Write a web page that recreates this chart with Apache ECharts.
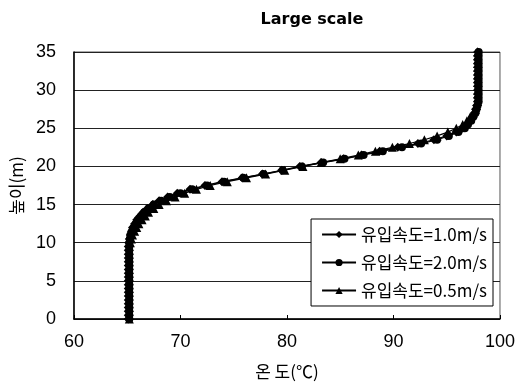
<!DOCTYPE html>
<html>
<head>
<meta charset="utf-8">
<script src="https://cdn.jsdelivr.net/npm/echarts@6/dist/echarts.min.js"></script>
<style>
html, body { margin: 0; padding: 0; background: #fff; }
#chart { width: 518px; height: 386px; }
</style>
</head>
<body>
<div id="chart"></div>
<script>
// height (m)
var heights = [0, 0.5, 1, 1.5, 2, 2.5, 3, 3.5, 4, 4.5, 5, 5.5, 6, 6.5, 7, 7.5, 8, 8.5, 9, 9.5,
    10, 10.5, 11, 11.5, 12, 12.5, 13, 13.5, 14, 14.5, 15, 15.5, 16, 16.5, 17, 17.5, 18, 18.5,
    19, 19.5, 20, 20.5, 21, 21.5, 22, 22.5, 23, 23.5, 24, 24.5, 25, 25.5, 26, 26.5, 27, 27.5, 28,
    28.5, 29, 29.5, 30, 30.5, 31, 31.5, 32, 32.5, 33, 33.5, 34, 34.5, 35];

// temperature (C) per inflow velocity
var temp10 = [65.1, 65.1, 65.1, 65.1, 65.1, 65.1, 65.1, 65.1, 65.1, 65.1, 65.1, 65.1, 65.1, 65.1, 65.1, 65.1, 65.1, 65.1, 65.1, 65.1,
    65.15, 65.2, 65.3, 65.4, 65.5, 65.7, 65.9, 66.2, 66.5, 66.9, 67.4, 68.0, 68.8, 69.7, 70.9, 72.3, 73.9, 75.8,
    77.7, 79.5, 81.2, 83.2, 85.3, 87.0, 88.7, 90.4, 92.3, 93.8, 95.0, 95.9, 96.5, 96.9, 97.2, 97.4, 97.6, 97.7, 97.8,
    97.9, 97.9, 97.9, 97.9, 97.9, 97.9, 97.9, 97.9, 97.9, 97.9, 97.9, 97.9, 97.9, 97.9];
var temp20 = [65.2, 65.2, 65.2, 65.2, 65.2, 65.2, 65.2, 65.2, 65.2, 65.2, 65.2, 65.2, 65.2, 65.2, 65.2, 65.2, 65.2, 65.2, 65.2, 65.2,
    65.2, 65.25, 65.3, 65.45, 65.6, 65.8, 66.0, 66.3, 66.6, 67.0, 67.5, 68.2, 69.0, 70.0, 71.1, 72.5, 74.1, 75.9,
    77.8, 79.6, 81.4, 83.4, 85.4, 87.2, 89.0, 90.8, 92.6, 94.1, 95.2, 96.1, 96.7, 97.0, 97.3, 97.5, 97.7, 97.8, 97.9,
    98.0, 98.0, 98.0, 98.0, 98.0, 98.0, 98.0, 98.0, 98.0, 98.0, 98.0, 98.0, 98.0, 98.0];
var temp05 = [65.2, 65.2, 65.2, 65.2, 65.2, 65.2, 65.2, 65.2, 65.2, 65.2, 65.2, 65.2, 65.2, 65.2, 65.2, 65.2, 65.2, 65.2, 65.2, 65.2,
    65.3, 65.4, 65.5, 65.7, 65.9, 66.1, 66.4, 66.7, 67.0, 67.5, 68.0, 68.7, 69.5, 70.4, 71.5, 72.8, 74.4, 76.2,
    78.0, 79.8, 81.5, 83.2, 85.0, 86.7, 88.3, 89.9, 91.5, 92.9, 94.1, 95.1, 95.9, 96.5, 96.9, 97.2, 97.5, 97.7, 97.8,
    97.9, 97.9, 97.9, 97.9, 97.9, 97.9, 97.9, 97.9, 97.9, 97.9, 97.9, 97.9, 97.9, 97.9];

var xTicks = [60, 70, 80, 90, 100];
var yTicks = [0, 5, 10, 15, 20, 25, 30, 35];

var names = ['유입속도=1.0m/s', '유입속도=2.0m/s', '유입속도=0.5m/s'];
var symbols = ['diamond', 'circle', 'triangle'];
var sizes = [9, 8, 9];
var temps = [temp10, temp20, temp05];

var numFont = "'Liberation Sans Narrow', 'Liberation Sans', sans-serif";
var korFont = "'Noto Sans CJK KR', sans-serif";

function pairs(t) {
    var out = [];
    for (var i = 0; i < heights.length; i++) {
        out.push([t[i], heights[i]]);
    }
    return out;
}

var series = [];
for (var k = 0; k < names.length; k++) {
    series.push({
        name: names[k],
        type: 'line',
        data: pairs(temps[k]),
        symbol: symbols[k],
        symbolSize: sizes[k],
        showAllSymbol: true,
        lineStyle: { color: '#000', width: 1.2 },
        itemStyle: { color: '#000' },
        animation: false
    });
}

var option = {
    backgroundColor: '#fff',
    title: {
        text: 'Large scale',
        left: 307,
        textAlign: 'center',
        top: 7,
        textStyle: { fontFamily: "'DejaVu Sans', sans-serif", fontWeight: 'bold', fontSize: 16, color: '#000' }
    },
    grid: {
        left: 70, right: 15, top: 52, bottom: 67,
        show: true, borderColor: '#555', borderWidth: 1, backgroundColor: '#fff'
    },
    legend: {
        orient: 'vertical',
        right: 25,
        top: 219,
        data: names,
        itemWidth: 34,
        itemHeight: 9,
        itemGap: 11,
        padding: [7, 6, 7, 10],
        backgroundColor: '#fff',
        borderColor: '#000',
        borderWidth: 1,
        borderRadius: 0,
        textStyle: { fontFamily: korFont, fontSize: 17, color: '#000' }
    },
    xAxis: {
        type: 'value',
        min: xTicks[0],
        max: xTicks[xTicks.length - 1],
        interval: 10,
        name: '온 도(℃)',
        nameLocation: 'middle',
        nameGap: 44,
        nameTextStyle: { fontFamily: korFont, fontSize: 17, color: '#000' },
        axisLine: { show: true, lineStyle: { color: '#000', width: 1.5 } },
        axisTick: { show: true, inside: true, length: 4, lineStyle: { color: '#000' } },
        axisLabel: { margin: 14, fontFamily: numFont, fontSize: 18, color: '#000' },
        splitLine: { show: false }
    },
    yAxis: {
        type: 'value',
        min: yTicks[0],
        max: yTicks[yTicks.length - 1],
        interval: 5,
        name: '높이(m)',
        nameLocation: 'middle',
        nameGap: 48,
        nameTextStyle: { fontFamily: korFont, fontSize: 17, color: '#000' },
        axisLine: { show: true, lineStyle: { color: '#000', width: 1.5 } },
        axisTick: { show: false },
        axisLabel: { margin: 18, fontFamily: numFont, fontSize: 18, color: '#000' },
        splitLine: { show: true, lineStyle: { color: '#222', width: 1 } }
    },
    series: series
};

var myChart = echarts.init(document.getElementById('chart'));
myChart.setOption(option);
</script>
</body>
</html>
